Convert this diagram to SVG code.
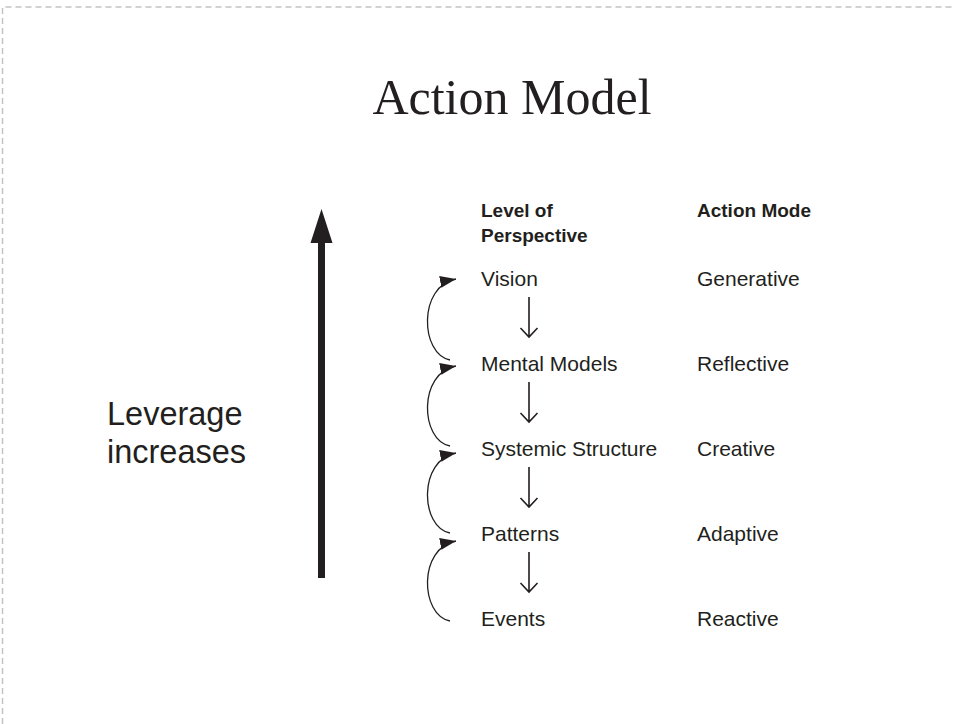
<svg xmlns="http://www.w3.org/2000/svg" width="955" height="724" viewBox="0 0 955 724">
<defs>
<style>
.title{font-family:"Liberation Serif","Times New Roman",serif;font-size:50px;fill:#231f20}
.lev{font-family:"Liberation Sans",Arial,sans-serif;font-size:32.5px;fill:#231f20}
.hd{font-family:"Liberation Sans",Arial,sans-serif;font-size:19px;font-weight:bold;fill:#231f20}
.tx{font-family:"Liberation Sans",Arial,sans-serif;font-size:21px;fill:#231f20}
.curve{fill:none;stroke:#231f20;stroke-width:1.3}
.down{fill:none;stroke:#231f20;stroke-width:1.6}
</style>
<marker id="ah" markerUnits="userSpaceOnUse" markerWidth="17" markerHeight="13" refX="16" refY="6" orient="auto">
<path d="M0,0 L16,6 L0,12 Z" fill="#231f20"/>
</marker>
<path id="downarrow" d="M0,0 V40 M-8.5,31 L0,40 L8.5,31" class="down"/>
</defs>
<rect width="955" height="724" fill="#ffffff"/>
<path d="M2.5,724 V7 H955" fill="none" stroke="#c3c3c6" stroke-width="1.5" stroke-dasharray="6,4"/>
<text class="title" x="512" y="114" text-anchor="middle">Action Model</text>
<g id="leverage">
<polygon points="321.5,209 332.5,243 325,243 325,578 318,578 318,243 310.5,243" fill="#231f20"/>
<text class="lev" x="107" y="425">Leverage</text>
<text class="lev" x="107" y="463">increases</text>
</g>
<g id="headers">
<text class="hd" x="481" y="217">Level of</text>
<text class="hd" x="481" y="242">Perspective</text>
<text class="hd" x="697" y="217">Action Mode</text>
</g>
<g id="vision"><text class="tx" x="481" y="286">Vision</text><text class="tx" x="697" y="286">Generative</text></g>
<g id="mental-models"><text class="tx" x="481" y="371">Mental Models</text><text class="tx" x="697" y="371">Reflective</text></g>
<g id="systemic-structure"><text class="tx" x="481" y="456">Systemic Structure</text><text class="tx" x="697" y="456">Creative</text></g>
<g id="patterns"><text class="tx" x="481" y="541">Patterns</text><text class="tx" x="697" y="541">Adaptive</text></g>
<g id="events"><text class="tx" x="481" y="626">Events</text><text class="tx" x="697" y="626">Reactive</text></g>
<g id="connectors">
<use href="#downarrow" x="529" y="297"/>
<use href="#downarrow" x="529" y="382"/>
<use href="#downarrow" x="529" y="467"/>
<use href="#downarrow" x="529" y="552"/>
<path class="curve" d="M450,360 C420,354 418,286 456,279" marker-end="url(#ah)"/>
<path class="curve" d="M450,446 C420,440 418,373 456,366" marker-end="url(#ah)"/>
<path class="curve" d="M450,533 C420,527 418,460 456,453" marker-end="url(#ah)"/>
<path class="curve" d="M450,621 C420,615 418,548 456,541" marker-end="url(#ah)"/>
</g>
</svg>
